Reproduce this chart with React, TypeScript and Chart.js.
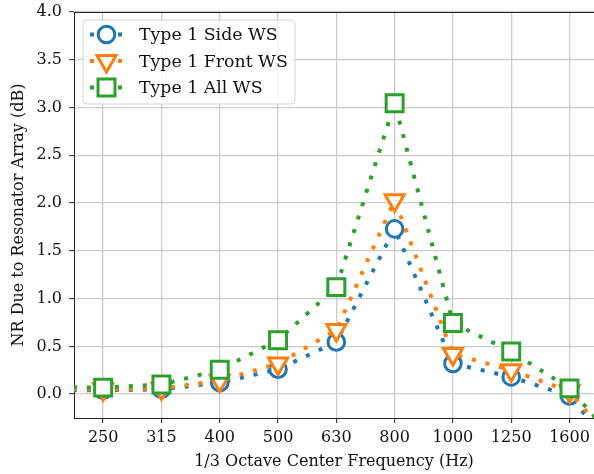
import React, { useEffect, useRef } from "react";
import { Chart, registerables } from "chart.js";

Chart.register(...registerables);

// Frequency bands; 200 and 2000 lie just outside the visible range (line continues off-plot)
const frequencies = ["200", "250", "315", "400", "500", "630", "800", "1000", "1250", "1600", "2000"];
const tickLabels = ["250", "315", "400", "500", "630", "800", "1000", "1250", "1600"];
const sideWS = [0.04, 0.04, 0.05, 0.12, 0.26, 0.545, 1.73, 0.32, 0.18, -0.02, -0.75];
const frontWS = [0.055, 0.05, 0.06, 0.14, 0.32, 0.67, 2.03, 0.42, 0.25, 0.03, -0.7];
const allWS = [0.075, 0.068, 0.1, 0.255, 0.565, 1.12, 3.045, 0.745, 0.445, 0.06, -0.63];
const yTicks = [0, 0.5, 1.0, 1.5, 2.0, 2.5, 3.0, 3.5, 4.0];
const seriesNames = ["Type 1 Side WS", "Type 1 Front WS", "Type 1 All WS"];

const BLUE = "#1f77b4";
const ORANGE = "#ff7f0e";
const GREEN = "#2ca02c";
const FONT = "'DejaVu Serif', serif";
const TEXT = "#111111";

// x position = band index relative to 250 Hz (200 Hz -> -1)
const toPoints = (vals: number[]) => vals.map((v, i) => ({ x: i - frequencies.indexOf("250"), y: v }));

function drawMarker(ctx: CanvasRenderingContext2D, style: string, x: number, y: number, r: number) {
  ctx.beginPath();
  if (style === "circle") {
    ctx.arc(x, y, r, 0, Math.PI * 2);
  } else if (style === "rect") {
    const s = Math.SQRT1_2 * r;
    ctx.rect(x - s, y - s, 2 * s, 2 * s);
  } else {
    let a = Math.PI;
    ctx.moveTo(x + Math.sin(a) * r, y - Math.cos(a) * r);
    a += (2 * Math.PI) / 3;
    ctx.lineTo(x + Math.sin(a) * r, y - Math.cos(a) * r);
    a += (2 * Math.PI) / 3;
    ctx.lineTo(x + Math.sin(a) * r, y - Math.cos(a) * r);
  }
  ctx.closePath();
  ctx.fill();
  ctx.stroke();
}

const frameAndLegend = {
  id: "frameAndLegend",
  afterDatasetsDraw(chart: any) {
    const { ctx, chartArea } = chart;
    const { left, top, right } = chartArea;
    ctx.save();
    ctx.strokeStyle = "#222";
    ctx.lineWidth = 1;
    ctx.beginPath();
    ctx.moveTo(left, top + 0.5);
    ctx.lineTo(right, top + 0.5);
    ctx.stroke();

    const bx = left + 9;
    const by = top + 8;
    const bw = 212;
    const bh = 84;
    const rr = 4;
    ctx.beginPath();
    ctx.moveTo(bx + rr, by);
    ctx.lineTo(bx + bw - rr, by);
    ctx.quadraticCurveTo(bx + bw, by, bx + bw, by + rr);
    ctx.lineTo(bx + bw, by + bh - rr);
    ctx.quadraticCurveTo(bx + bw, by + bh, bx + bw - rr, by + bh);
    ctx.lineTo(bx + rr, by + bh);
    ctx.quadraticCurveTo(bx, by + bh, bx, by + bh - rr);
    ctx.lineTo(bx, by + rr);
    ctx.quadraticCurveTo(bx, by, bx + rr, by);
    ctx.closePath();
    ctx.fillStyle = "rgba(255,255,255,0.85)";
    ctx.fill();
    ctx.strokeStyle = "#d4d4d4";
    ctx.lineWidth = 1;
    ctx.stroke();

    chart.data.datasets.forEach((ds: any, i: number) => {
      const cy = by + 14.5 + i * 26.5;
      const x0 = bx + 7;
      const x1 = bx + 40;
      ctx.save();
      ctx.strokeStyle = ds.borderColor;
      ctx.lineWidth = ds.borderWidth;
      ctx.setLineDash(ds.borderDash);
      ctx.lineCap = "butt";
      ctx.beginPath();
      ctx.moveTo(x0, cy);
      ctx.lineTo(x1, cy);
      ctx.stroke();
      ctx.restore();
      ctx.save();
      ctx.setLineDash([]);
      ctx.fillStyle = "white";
      ctx.strokeStyle = ds.borderColor;
      ctx.lineWidth = ds.pointBorderWidth;
      drawMarker(ctx, ds.pointStyle, (x0 + x1) / 2, cy, ds.pointRadius);
      ctx.restore();
      ctx.fillStyle = TEXT;
      ctx.font = `17.33px ${FONT}`;
      ctx.textBaseline = "middle";
      ctx.textAlign = "left";
      ctx.fillText(ds.label, bx + 56, cy + 1);
    });
    ctx.restore();
  },
};

const zeroPad = (scale: any) => {
  scale.paddingLeft = 0;
  scale.paddingRight = 0;
  scale.paddingTop = 0;
  scale.paddingBottom = 0;
};

export default function App() {
  const ref = useRef<HTMLCanvasElement | null>(null);

  useEffect(() => {
    if (!ref.current) return;
    const common = {
      borderWidth: 4,
      borderDash: [4, 10],
      borderCapStyle: "butt",
      pointBorderWidth: 3,
      pointBackgroundColor: "white",
      tension: 0,
      fill: false,
    };
    const chart = new Chart(ref.current, {
      type: "line",
      data: {
        datasets: [
          {
            ...common,
            label: seriesNames[0],
            data: toPoints(sideWS),
            borderColor: BLUE,
            pointBorderColor: BLUE,
            pointStyle: "circle",
            pointRadius: 8.3,
            order: 2,
          },
          {
            ...common,
            label: seriesNames[1],
            data: toPoints(frontWS),
            borderColor: ORANGE,
            pointBorderColor: ORANGE,
            pointStyle: "triangle",
            pointRotation: 180,
            pointRadius: 11,
            order: 1,
          },
          {
            ...common,
            label: seriesNames[2],
            data: toPoints(allWS),
            borderColor: GREEN,
            pointBorderColor: GREEN,
            pointStyle: "rect",
            pointRadius: 12,
            order: 0,
          },
        ] as any,
      },
      options: {
        responsive: false,
        animation: false,
        devicePixelRatio: 1,
        layout: { autoPadding: false, padding: { top: 12, right: 0, left: 0, bottom: 0 } },
        plugins: {
          legend: { display: false },
          tooltip: { enabled: false },
        },
        scales: {
          x: {
            type: "linear",
            min: -0.5,
            max: 8.42,
            afterBuildTicks: (scale: any) => {
              scale.ticks = tickLabels.map((_, i) => ({ value: i }));
            },
            afterFit: (scale: any) => {
              scale.height = 56;
              zeroPad(scale);
            },
            ticks: {
              autoSkip: false,
              maxRotation: 0,
              padding: 5,
              color: TEXT,
              font: { family: FONT, size: 16 },
              callback: (v: any) => tickLabels[Math.round(Number(v))] ?? "",
            },
            grid: {
              color: "#cccccc",
              lineWidth: 1.3,
              drawTicks: true,
              tickLength: 5,
              tickColor: "#222",
              tickWidth: 1,
            },
            border: { display: true, color: "#222", width: 1 },
            title: {
              display: true,
              text: "1/3 Octave Center Frequency (Hz)",
              color: TEXT,
              font: { family: FONT, size: 16 },
              padding: { top: 0, bottom: 3 },
            },
          },
          y: {
            type: "linear",
            min: -0.25,
            max: 4.0,
            afterBuildTicks: (scale: any) => {
              scale.ticks = yTicks.map((v) => ({ value: v }));
            },
            afterFit: (scale: any) => {
              scale.width = 74;
              zeroPad(scale);
            },
            ticks: {
              padding: 7,
              color: TEXT,
              font: { family: FONT, size: 16 },
              callback: (v: any) => Number(v).toFixed(1),
            },
            grid: {
              color: "#cccccc",
              lineWidth: 1.3,
              drawTicks: true,
              tickLength: 5,
              tickColor: "#222",
              tickWidth: 1,
            },
            border: { display: true, color: "#222", width: 1 },
            title: {
              display: true,
              text: "NR Due to Resonator Array (dB)",
              color: TEXT,
              font: { family: FONT, size: 16 },
              padding: { top: 9, bottom: 0 },
            },
          },
        },
      } as any,
      plugins: [frameAndLegend],
    });
    return () => chart.destroy();
  }, []);

  return (
    <div style={{ position: "fixed", left: 0, top: 0, width: 594, height: 474, background: "white" }}>
      <canvas ref={ref} width={594} height={474} style={{ display: "block" }} />
    </div>
  );
}
